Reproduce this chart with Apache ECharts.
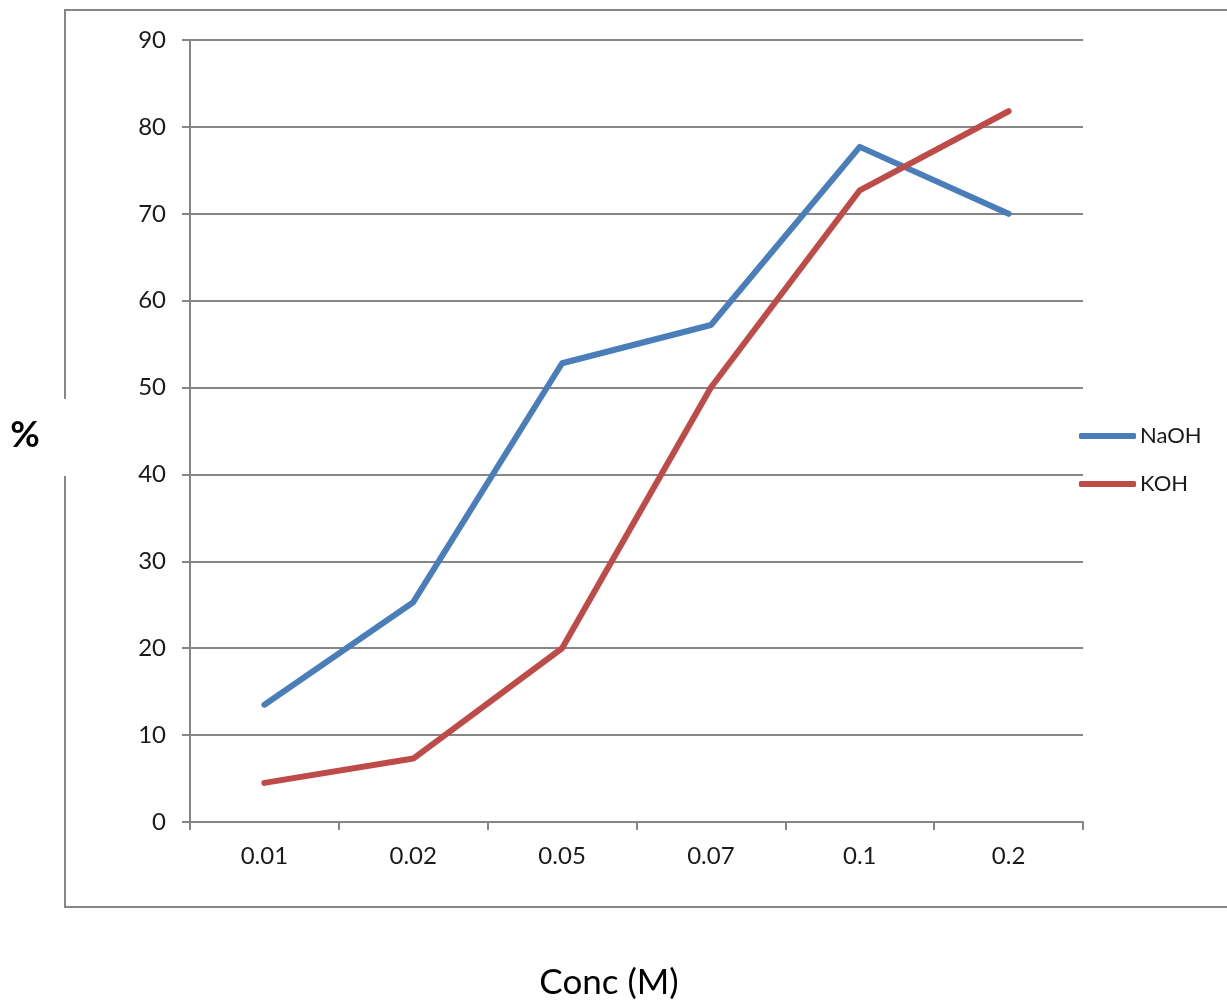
<!DOCTYPE html>
<html>
<head>
<meta charset="utf-8">
<title>Conc (M)</title>
<script src="https://cdn.jsdelivr.net/npm/echarts@6/dist/echarts.min.js"></script>
<style>
  html, body { margin: 0; padding: 0; background: #ffffff; }
  #chart { width: 1227px; height: 1006px; }
</style>
</head>
<body>
<div id="chart"></div>
<script>
// Concentration categories (M)
const concentrations = ['0.01', '0.02', '0.05', '0.07', '0.1', '0.2'];
// Percentage values per base
const naohValues = [13.5, 25.3, 52.8, 57.2, 77.7, 70.0];
const kohValues = [4.5, 7.3, 20.0, 50.0, 72.7, 81.8];
// Y axis range
const yMin = 0;
const yMax = 90;
const yStep = 10;

const FONT = 'Lato, "Open Sans", sans-serif';
const GRID_GRAY = '#868686';
const NAOH_BLUE = '#4a7ebb';
const KOH_RED = '#be4b48';

const chart = echarts.init(document.getElementById('chart'), null, { renderer: 'canvas' });

chart.setOption({
  animation: false,
  backgroundColor: '#ffffff',
  textStyle: { fontFamily: FONT },
  grid: { left: 190, right: 144, top: 40, bottom: 184, containLabel: false },
  legend: {
    orient: 'vertical',
    left: 1079,
    top: 425,
    padding: 0,
    itemWidth: 57,
    itemHeight: 6,
    itemGap: 26,
    icon: 'roundRect',
    textStyle: { fontFamily: FONT, fontSize: 22, color: '#1a1a1a', padding: [0, 0, 0, -1] },
    data: ['NaOH', 'KOH']
  },
  xAxis: {
    type: 'category',
    data: concentrations,
    boundaryGap: true,
    axisLine: { show: true, lineStyle: { color: GRID_GRAY, width: 2 } },
    axisTick: { show: true, alignWithLabel: false, interval: 0, length: 8, lineStyle: { color: GRID_GRAY, width: 2 } },
    axisLabel: { fontFamily: FONT, fontSize: 24, color: '#1a1a1a', margin: 22, interval: 0 },
    splitLine: { show: false }
  },
  yAxis: {
    type: 'value',
    min: yMin,
    max: yMax,
    interval: yStep,
    axisLine: { show: true, lineStyle: { color: GRID_GRAY, width: 2 } },
    axisTick: { show: true, length: 8, lineStyle: { color: GRID_GRAY, width: 2 } },
    axisLabel: { fontFamily: FONT, fontSize: 24, color: '#1a1a1a', margin: 24 },
    splitLine: { show: true, lineStyle: { color: GRID_GRAY, width: 2 } }
  },
  series: [
    {
      name: 'NaOH',
      type: 'line',
      data: naohValues,
      symbol: 'none',
      color: NAOH_BLUE,
      lineStyle: { color: NAOH_BLUE, width: 6, cap: 'round', join: 'round' }
    },
    {
      name: 'KOH',
      type: 'line',
      data: kohValues,
      symbol: 'none',
      color: KOH_RED,
      lineStyle: { color: KOH_RED, width: 6, cap: 'round', join: 'round' }
    }
  ],
  graphic: [
    // outer chart frame, open on the right and broken around the "%" label
    {
      type: 'polyline',
      shape: { points: [[1230, 10], [65, 10], [65, 399]] },
      style: { stroke: GRID_GRAY, lineWidth: 2, fill: null }
    },
    {
      type: 'polyline',
      shape: { points: [[65, 476], [65, 907], [1230, 907]] },
      style: { stroke: GRID_GRAY, lineWidth: 2, fill: null }
    },
    {
      type: 'text',
      x: 25,
      y: 435,
      style: {
        text: '%',
        fontFamily: FONT,
        fontSize: 36,
        fontWeight: 'bold',
        fill: '#000000',
        align: 'center',
        verticalAlign: 'middle'
      }
    },
    {
      type: 'text',
      x: 609,
      y: 983,
      style: {
        text: 'Conc (M)',
        fontFamily: FONT,
        fontSize: 35,
        fill: '#000000',
        align: 'center',
        verticalAlign: 'middle'
      }
    }
  ]
});
</script>
</body>
</html>
